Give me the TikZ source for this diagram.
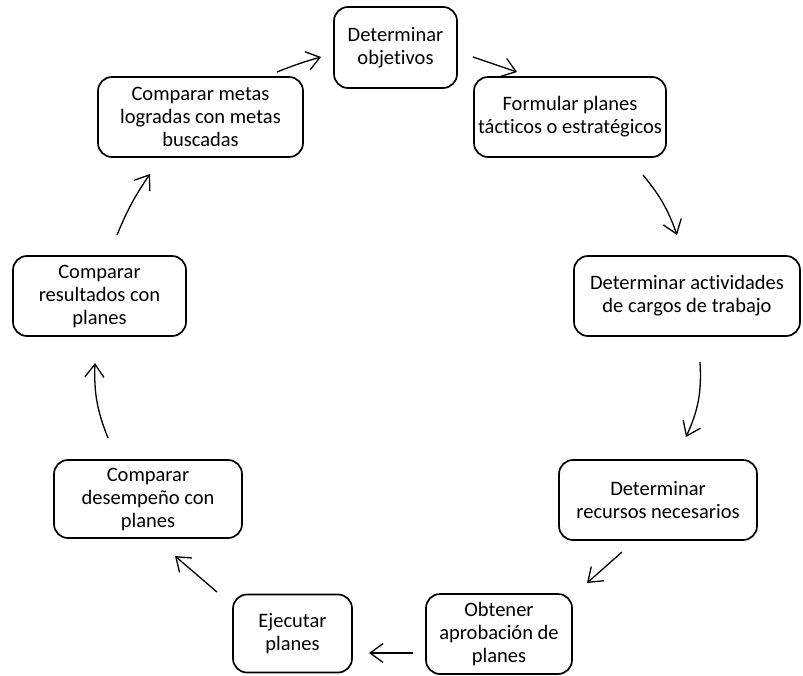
\documentclass[tikz,border=0pt]{standalone}
\usepackage{fontspec}
\setmainfont{Carlito}[Ligatures=NoCommon]
\usetikzlibrary{arrows.meta}
\begin{document}
\begin{tikzpicture}[x=1pt,y=1pt,
  box/.style={draw, line width=1.7pt, rounded corners=14pt, align=center,
    font=\fontsize{20.5}{23}\selectfont, inner sep=0pt},
  flow/.style={line width=1.3pt,
    -{Straight Barb[length=13pt,width=19pt,line width=1.3pt]}}]
\useasboundingbox (0,0) rectangle (803,-675);

% the nine steps of the planning cycle
\node[box, minimum width=123pt, minimum height=81pt] (obj)  at (395.5,-47.5) {Determinar\\objetivos};
\node[box, minimum width=192pt, minimum height=80pt] (plan) at (570,-117)   {Formular planes\\tácticos o estratégicos};
\node[box, minimum width=226pt, minimum height=80pt] (act)  at (687,-296)   {Determinar actividades\\de cargos de trabajo};
\node[box, minimum width=198pt, minimum height=80pt] (rec)  at (658,-500)   {Determinar\\recursos necesarios};
\node[box, minimum width=146pt, minimum height=80pt] (apr)  at (499,-634)   {Obtener\\aprobación de\\planes};
\node[box, minimum width=119pt, minimum height=78pt] (eje)  at (292.5,-633.5) {Ejecutar\\planes};
\node[box, minimum width=188pt, minimum height=78pt] (des)  at (148,-499)   {Comparar\\desempeño con\\planes};
\node[box, minimum width=173pt, minimum height=80pt] (res)  at (99.5,-296)  {Comparar\\resultados con\\planes};
\node[box, minimum width=205pt, minimum height=80pt] (met)  at (200.5,-117) {Comparar metas\\logradas con metas\\buscadas};

% free-standing arrow ends between the steps
\coordinate (metS) at (277,-72);  \coordinate (objE) at (321,-57);
\coordinate (objS) at (473,-57);  \coordinate (planE) at (517,-72);
\coordinate (planS) at (643,-175); \coordinate (actE) at (677,-235);
\coordinate (actS) at (700,-362); \coordinate (recE) at (686,-437);
\coordinate (recS) at (622,-552); \coordinate (aprE) at (587,-583);
\coordinate (aprS) at (413,-653); \coordinate (ejeE) at (369,-653);
\coordinate (ejeS) at (217,-592); \coordinate (desE) at (175,-556);
\coordinate (desS) at (108,-438); \coordinate (resE) at (95,-363);
\coordinate (resS) at (117,-235); \coordinate (metE) at (150,-174);

\draw[flow] (metS) to[bend left=3] (objE);
\draw[flow] (objS) -- (planE);
\draw[flow] (planS) to[bend left=10] (actE);
\draw[flow] (actS) to[bend left=14] (recE);
\draw[flow] (recS) -- (aprE);
\draw[flow] (aprS) -- (ejeE);
\draw[flow] (ejeS) -- (desE);
\draw[flow] (desS) to[bend left=12] (resE);
\draw[flow] (resS) to[bend left=6] (metE);
\end{tikzpicture}
\end{document}
